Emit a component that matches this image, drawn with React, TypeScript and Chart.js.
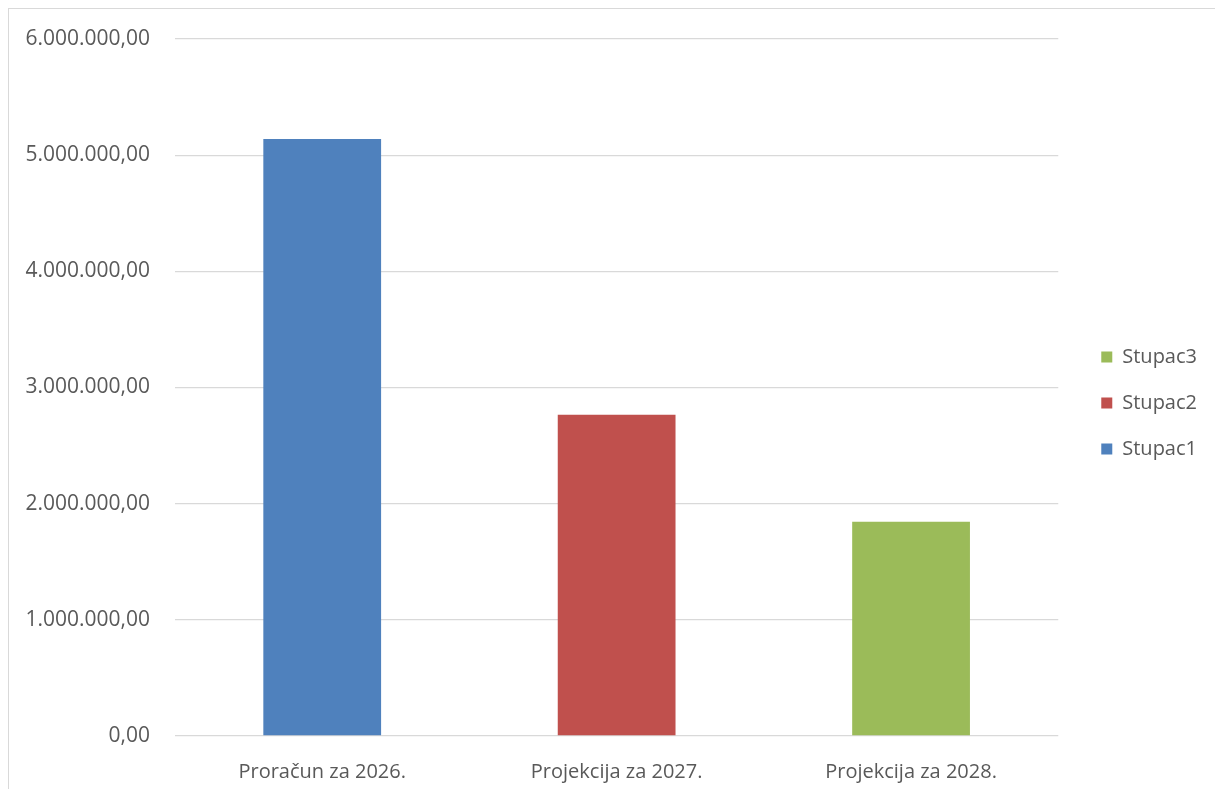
import React, { useEffect, useRef } from "react";
import { Chart, registerables } from "chart.js";

Chart.register(...registerables);

const categories = ["Proračun za 2026.", "Projekcija za 2027.", "Projekcija za 2028."];
const seriesNames = ["Stupac1", "Stupac2", "Stupac3"];
const stupac1 = [5140000, null, null];
const stupac2 = [null, 2765000, null];
const stupac3 = [null, null, 1845000];
const seriesColors = ["#4F81BD", "#C0504D", "#9BBB59"];
const yTicks = [0, 1000000, 2000000, 3000000, 4000000, 5000000, 6000000];

const FONT = "'Open Sans', 'Liberation Sans', sans-serif";
const TEXT = "#595959";

function fmt(v: number): string {
  const fixed = Math.abs(v).toFixed(2);
  const [intPart, dec] = fixed.split(".");
  const withDots = intPart.replace(/\B(?=(\d{3})+(?!\d))/g, ".");
  return (v < 0 ? "-" : "") + withDots + "," + dec;
}

const legendShift = {
  id: "legendShift",
  afterLayout(chart: any) {
    const lg = chart.legend;
    if (lg) {
      lg.top -= 20;
      lg.bottom -= 20;
    }
  },
};

export default function App() {
  const ref = useRef<HTMLCanvasElement | null>(null);
  useEffect(() => {
    if (!ref.current) return;
    const values = [stupac1, stupac2, stupac3];
    const chart = new Chart(ref.current, {
      type: "bar",
      data: {
        labels: categories,
        datasets: seriesNames.map((name, i) => ({
          label: name,
          data: values[i],
          backgroundColor: seriesColors[i],
          borderWidth: 0,
          categoryPercentage: 0.8,
          barPercentage: 0.5,
        })),
      },
      options: {
        animation: false,
        responsive: true,
        maintainAspectRatio: false,
        layout: { padding: { top: 30, bottom: 0, left: 0, right: 40 } },
        plugins: {
          tooltip: { enabled: false },
          legend: {
            position: "right",
            reverse: true,
            labels: {
              boxWidth: 11,
              boxHeight: 11,
              padding: 26,
              color: TEXT,
              font: { family: FONT, size: 20 },
            },
          },
        },
        scales: {
          x: {
            stacked: true,
            grid: { display: false },
            border: { display: false },
            ticks: { color: TEXT, font: { family: FONT, size: 20 }, padding: 16 },
            afterFit: (s: any) => {
              s.height = 71;
            },
          },
          y: {
            stacked: true,
            min: 0,
            max: 6000000,
            afterBuildTicks: (s: any) => {
              s.ticks = yTicks.map((v) => ({ value: v }));
            },
            grid: {
              color: "#D9D9D9",
              lineWidth: 1.3,
              drawTicks: true,
              tickLength: 25,
              tickColor: "rgba(0,0,0,0)",
            },
            border: { display: false },
            ticks: {
              color: TEXT,
              font: { family: FONT, size: 21 },
              padding: 0,
              callback: (v: any) => fmt(Number(v)),
            },
            afterFit: (s: any) => {
              s.width = 166;
            },
          },
          yR: {
            position: "right",
            display: true,
            grid: { display: false },
            border: { display: false },
            ticks: { display: false },
            afterFit: (s: any) => {
              s.width = 17;
            },
          },
        },
      } as any,
      plugins: [legendShift],
    });
    return () => chart.destroy();
  }, []);
  return (
    <div
      style={{
        width: 1240,
        height: 800,
        border: "1px solid #D9D9D9",
        boxSizing: "border-box",
        position: "relative",
        background: "#fff",
      }}
    >
      <canvas ref={ref} />
    </div>
  );
}
